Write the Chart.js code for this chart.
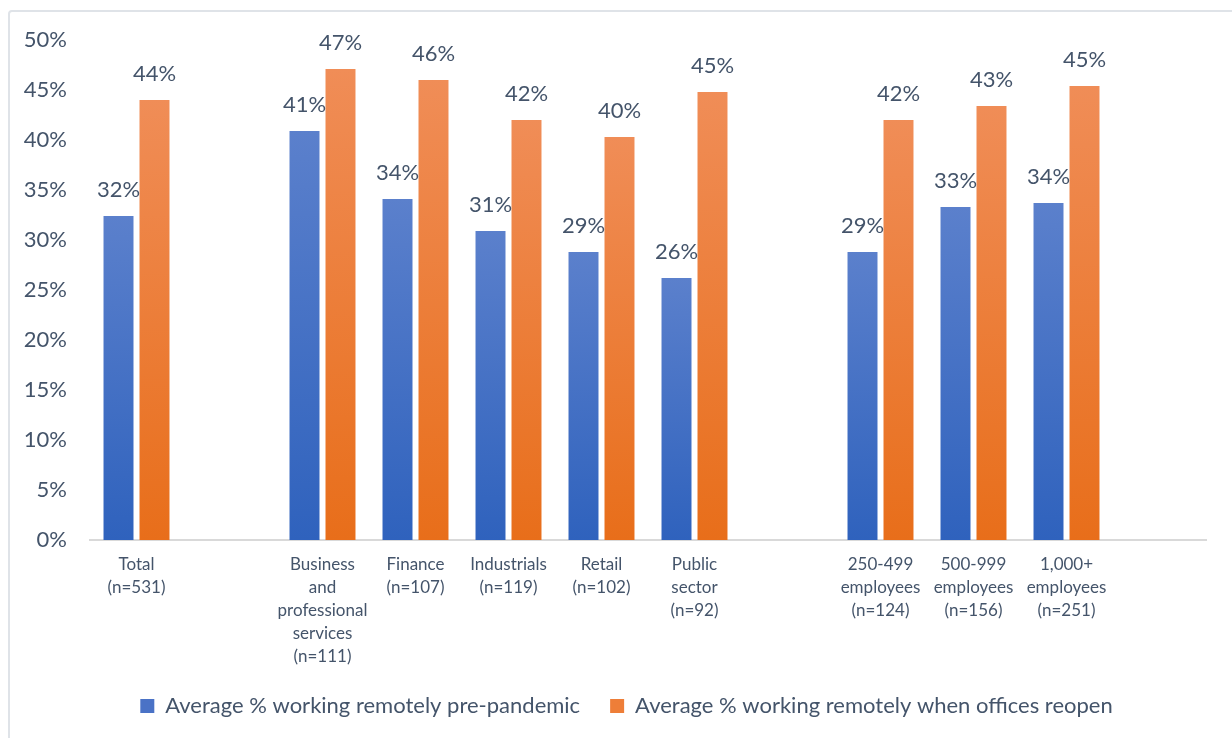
<!DOCTYPE html>
<html>
<head>
<meta charset="utf-8">
<script src="https://cdn.jsdelivr.net/npm/chart.js@4/dist/chart.umd.min.js"></script>
<style>
  html, body { margin: 0; padding: 0; background: #fff; overflow: hidden; }
  #wrap { position: relative; width: 1232px; height: 738px; }
  #frame { position: absolute; left: 8px; top: 10px; width: 1400px; height: 900px;
           border: 2px solid #dfe3e8; border-radius: 4px; }
  canvas { position: absolute; left: 0; top: 0; }
</style>
</head>
<body>
<div id="wrap">
  <div id="frame"></div>
  <canvas id="chart" width="1232" height="738"></canvas>
</div>
<script>
// categories (empty strings are the gaps between groups)
const categories = [
    ["Total", "(n=531)"],
    "",
    ["Business", "and", "professional", "services", "(n=111)"],
    ["Finance", "(n=107)"],
    ["Industrials", "(n=119)"],
    ["Retail", "(n=102)"],
    ["Public", "sector", "(n=92)"],
    "",
    ["250-499", "employees", "(n=124)"],
    ["500-999", "employees", "(n=156)"],
    ["1,000+", "employees", "(n=251)"],
    ""
];

// values in %
const prePandemic = [32.4, null, 40.9, 34.1, 30.9, 28.8, 26.2, null, 28.8, 33.3, 33.7, null];
const whenReopen  = [44.0, null, 47.1, 46.0, 42.0, 40.3, 44.8, null, 42.0, 43.4, 45.4, null];

const yTicks = [0, 5, 10, 15, 20, 25, 30, 35, 40, 45, 50];

const textColor = "#44546a";
const font = "Lato";

// gradient per bar, lighter at the top
function barGradient(top, bottom) {
    return function (ctx) {
        const chart = ctx.chart;
        if (!chart.chartArea || ctx.type !== "data" || ctx.raw == null) return bottom;
        const y = chart.scales.y;
        const y0 = y.getPixelForValue(ctx.raw);
        const y1 = y.getPixelForValue(0);
        const g = chart.ctx.createLinearGradient(0, y0, 0, y1);
        g.addColorStop(0, top);
        g.addColorStop(1, bottom);
        return g;
    };
}

// value labels above the bars
const valueLabels = {
    id: "valueLabels",
    afterDatasetsDraw(chart) {
        const c = chart.ctx;
        c.save();
        c.font = "22px " + font;
        c.fillStyle = textColor;
        c.textAlign = "center";
        c.textBaseline = "middle";
        chart.data.datasets.forEach((ds, i) => {
            chart.getDatasetMeta(i).data.forEach((bar, j) => {
                const v = ds.data[j];
                if (v == null) return;
                c.fillText(Math.round(v) + "%", bar.x, bar.y - 26);
            });
        });
        c.restore();
    }
};

new Chart(document.getElementById("chart"), {
    type: "bar",
    data: {
        labels: categories,
        datasets: [
            {
                label: "Average % working remotely pre-pandemic",
                data: prePandemic,
                backgroundColor: barGradient("#5b80cc", "#2f62bd"),
                legendColor: "#4a72c6"
            },
            {
                label: "Average % working remotely when offices reopen",
                data: whenReopen,
                backgroundColor: barGradient("#f08d57", "#e86e1a"),
                legendColor: "#ee7e38"
            }
        ]
    },
    options: {
        responsive: false,
        animation: false,
        categoryPercentage: 0.774,
        barPercentage: 0.833,
        layout: { padding: { left: 21, right: 0, top: 40, bottom: 11 } },
        plugins: {
            legend: {
                position: "bottom",
                labels: {
                    font: { family: font, size: 22 },
                    color: textColor,
                    boxWidth: 14,
                    boxHeight: 14,
                    padding: 30,
                    generateLabels(chart) {
                        return chart.data.datasets.map((ds, i) => ({
                            text: ds.label,
                            fillStyle: ds.legendColor,
                            strokeStyle: ds.legendColor,
                            lineWidth: 0,
                            fontColor: textColor,
                            datasetIndex: i
                        }));
                    }
                }
            },
            tooltip: { enabled: false }
        },
        scales: {
            x: {
                grid: { display: false, drawTicks: false },
                border: { display: true, color: "#d9d9d9", width: 2 },
                ticks: {
                    font: { family: font, size: 17, lineHeight: 1.35 },
                    color: textColor,
                    padding: 13,
                    maxRotation: 0,
                    autoSkip: false
                },
                afterFit(s) { s.height = 125; }
            },
            y: {
                min: 0,
                max: 50,
                grid: { display: false, drawTicks: false },
                border: { display: false },
                afterBuildTicks(s) { s.ticks = yTicks.map(v => ({ value: v })); },
                ticks: {
                    font: { family: font, size: 22 },
                    color: textColor,
                    padding: 23,
                    callback: v => v + "%"
                },
                afterFit(s) { s.width = 69; }
            },
            y2: {
                position: "right",
                display: true,
                grid: { display: false, drawTicks: false },
                border: { display: false },
                ticks: { display: false },
                afterFit(s) { s.width = 26; }
            }
        }
    },
    plugins: [valueLabels]
});
</script>
</body>
</html>
